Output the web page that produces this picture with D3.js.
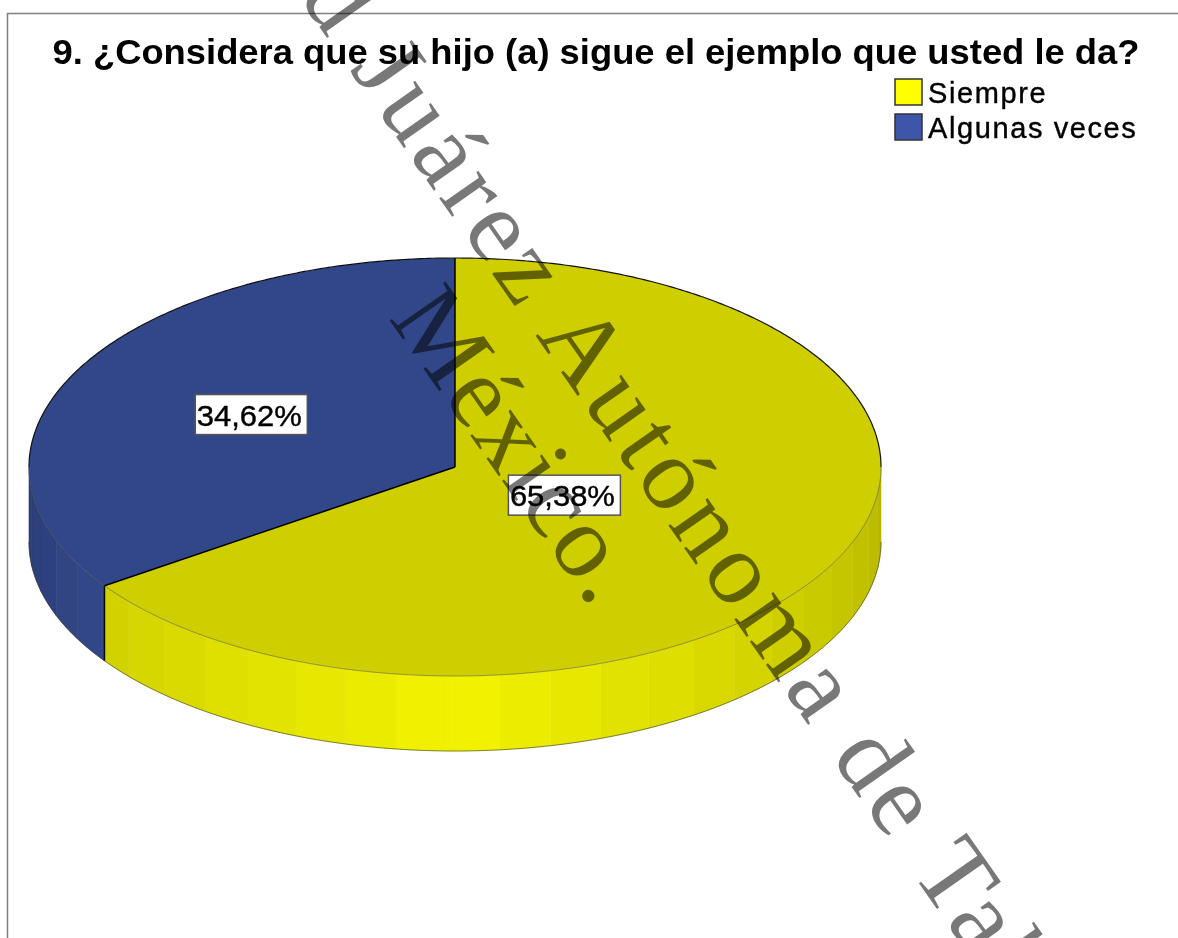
<!DOCTYPE html>
<html>
<head>
<meta charset="utf-8">
<script src="https://cdn.jsdelivr.net/npm/d3@7"></script>
<style>
html, body { margin: 0; padding: 0; background: #fff; overflow: hidden; }
svg { display: block; }
</style>
</head>
<body>
<div id="chart"></div>
<script>
var categories = ["Siempre", "Algunas veces"];
var percents = [65.38, 34.62];
var percentLabels = ["65,38%", "34,62%"];
var baseColors = ["#ffff00", "#3e57a9"];
var titleText = "9. ¿Considera que su hijo (a) sigue el ejemplo que usted le da?";
var watermarkBefore = "Universidad Juárez ";
var watermarkAfter = "Autónoma de Tabasco.";
var watermarkSecond = "México.";

var width = 1178, height = 938;
var cx = 455, cy = 467, rx = 426, ry = 209, depth = 75;
var labelRadius = [0.29, 0.54];

var svg = d3.select("#chart").append("svg")
    .attr("width", width)
    .attr("height", height);

svg.append("defs").append("filter")
    .attr("id", "soft")
    .append("feGaussianBlur")
    .attr("stdDeviation", 0.55);

var chart = svg.append("g").attr("filter", "url(#soft)");

// frame, only top and left are in view
chart.append("path")
    .attr("d", "M7.5," + height + "V13.5H" + width)
    .attr("fill", "none")
    .attr("stroke", "#808080")
    .attr("stroke-width", 1.5);

chart.append("text")
    .attr("x", 596)
    .attr("y", 64)
    .attr("text-anchor", "middle")
    .attr("font-family", "Liberation Sans")
    .attr("font-weight", "bold")
    .attr("font-size", 34.5)
    .attr("textLength", 1087)
    .attr("lengthAdjust", "spacingAndGlyphs")
    .attr("fill", "#000")
    .text(titleText);

var slices = d3.pie().sort(null)(percents);

// side wall brightness by angle (degrees clockwise from top)
var shade = d3.scaleLinear()
    .domain([90, 180, 235, 270])
    .range([0.71, 0.95, 0.82, 0.68])
    .clamp(true);

function tint(color, k) {
    var c = d3.rgb(color);
    return d3.rgb(c.r * k, c.g * k, c.b * k).formatHex();
}

function px(a) { return cx + rx * Math.sin(a); }
function py(a) { return cy - ry * Math.cos(a); }

function rimLine(a0, a1, offset) {
    return d3.line()(d3.range(a0, a1, 0.01).concat([a1]).map(function(a) {
        return [px(a), py(a) + offset];
    }));
}

function wallPath(a0, a1) {
    var steps = d3.range(a0, a1, 0.01).concat([a1]);
    var upper = steps.map(function(a) { return [px(a), py(a)]; });
    var lower = steps.slice().reverse().map(function(a) { return [px(a), py(a) + depth]; });
    return d3.line()(upper.concat(lower)) + "Z";
}

var wall = chart.append("g");
var bandStep = 7 * Math.PI / 180;

slices.forEach(function(s, i) {
    var a0 = Math.max(s.startAngle, Math.PI / 2);
    var a1 = Math.min(s.endAngle, Math.PI * 1.5);
    if (a1 <= a0) return;
    var edges = d3.range(a0, a1, bandStep).concat([a1]);
    d3.pairs(edges).forEach(function(p) {
        var mid = (p[0] + p[1]) / 2 * 180 / Math.PI;
        var col = tint(baseColors[i], shade(mid));
        wall.append("path")
            .attr("d", wallPath(p[0], p[1]))
            .attr("fill", col)
            .attr("stroke", col)
            .attr("stroke-width", 0.6);
    });
    // bottom edge of the wall
    wall.append("path")
        .attr("d", rimLine(a0, a1, depth))
        .attr("fill", "none")
        .attr("stroke", "#333")
        .attr("stroke-width", 0.6);
});

// vertical edge between the slices
wall.append("line")
    .attr("x1", px(slices[0].endAngle)).attr("y1", py(slices[0].endAngle))
    .attr("x2", px(slices[0].endAngle)).attr("y2", py(slices[0].endAngle) + depth)
    .attr("stroke", "#111")
    .attr("stroke-width", 1.5);

// top face
var arc = d3.arc().innerRadius(0).outerRadius(rx);
var topFace = chart.append("g")
    .attr("transform", "translate(" + cx + "," + cy + ") scale(1," + (ry / rx) + ")");

topFace.selectAll("path")
    .data(slices)
    .enter().append("path")
    .attr("d", arc)
    .attr("fill", function(d, i) { return tint(baseColors[i], 0.81); });

// outline: strong on the far rim and the radii, faint on the near rim
chart.append("path")
    .attr("d", rimLine(-Math.PI / 2, Math.PI / 2, 0))
    .attr("fill", "none")
    .attr("stroke", "#111")
    .attr("stroke-width", 1.2);
chart.append("path")
    .attr("d", rimLine(Math.PI / 2, Math.PI * 1.5, 0))
    .attr("fill", "none")
    .attr("stroke", "#444")
    .attr("stroke-width", 0.5);
slices.forEach(function(s) {
    chart.append("line")
        .attr("x1", cx).attr("y1", cy)
        .attr("x2", px(s.startAngle)).attr("y2", py(s.startAngle))
        .attr("stroke", "#000")
        .attr("stroke-width", 1.5);
});

// percent labels
slices.forEach(function(s, i) {
    var mid = (s.startAngle + s.endAngle) / 2;
    var lx = cx + rx * labelRadius[i] * Math.sin(mid);
    var ly = cy - ry * labelRadius[i] * Math.cos(mid);
    chart.append("rect")
        .attr("x", lx - 56)
        .attr("y", ly - 20)
        .attr("width", 112)
        .attr("height", 40)
        .attr("fill", "#fff")
        .attr("stroke", "#555")
        .attr("stroke-width", 1.5);
    chart.append("text")
        .attr("x", lx - 2)
        .attr("y", ly + 11)
        .attr("text-anchor", "middle")
        .attr("font-family", "Liberation Sans")
        .attr("font-size", 30)
        .attr("stroke", "#000")
        .attr("stroke-width", 0.4)
        .attr("textLength", 105)
        .attr("lengthAdjust", "spacingAndGlyphs")
        .attr("fill", "#000")
        .text(percentLabels[i]);
});

// legend
var legend = chart.selectAll(".legend")
    .data(categories)
    .enter().append("g")
    .attr("class", "legend")
    .attr("transform", function(d, i) { return "translate(895," + (79 + i * 35) + ")"; });

legend.append("rect")
    .attr("width", 27)
    .attr("height", 26)
    .attr("fill", function(d, i) { return baseColors[i]; })
    .attr("stroke", "#333")
    .attr("stroke-width", 1.5);

legend.append("text")
    .attr("x", 33)
    .attr("y", 24)
    .attr("font-family", "Liberation Sans")
    .attr("font-size", 29)
    .attr("letter-spacing", 1.6)
    .attr("stroke", "#000")
    .attr("stroke-width", 0.4)
    .attr("fill", "#000")
    .text(function(d) { return d; });

// watermark over everything
var mark = svg.append("g")
    .attr("font-family", "Liberation Serif")
    .attr("font-size", 104)
    .attr("fill", "#000")
    .attr("fill-opacity", 0.53);

// first line is placed by where the A of Autónoma starts
var firstLine = mark.append("text")
    .attr("transform", "translate(535,335) rotate(55)")
    .attr("letter-spacing", 5.5)
    .text(watermarkBefore + watermarkAfter);
firstLine.attr("x", -firstLine.node().getSubStringLength(0, watermarkBefore.length));

mark.append("text")
    .attr("transform", "translate(388,318) rotate(55)")
    .attr("letter-spacing", 2)
    .text(watermarkSecond);
</script>
</body>
</html>
